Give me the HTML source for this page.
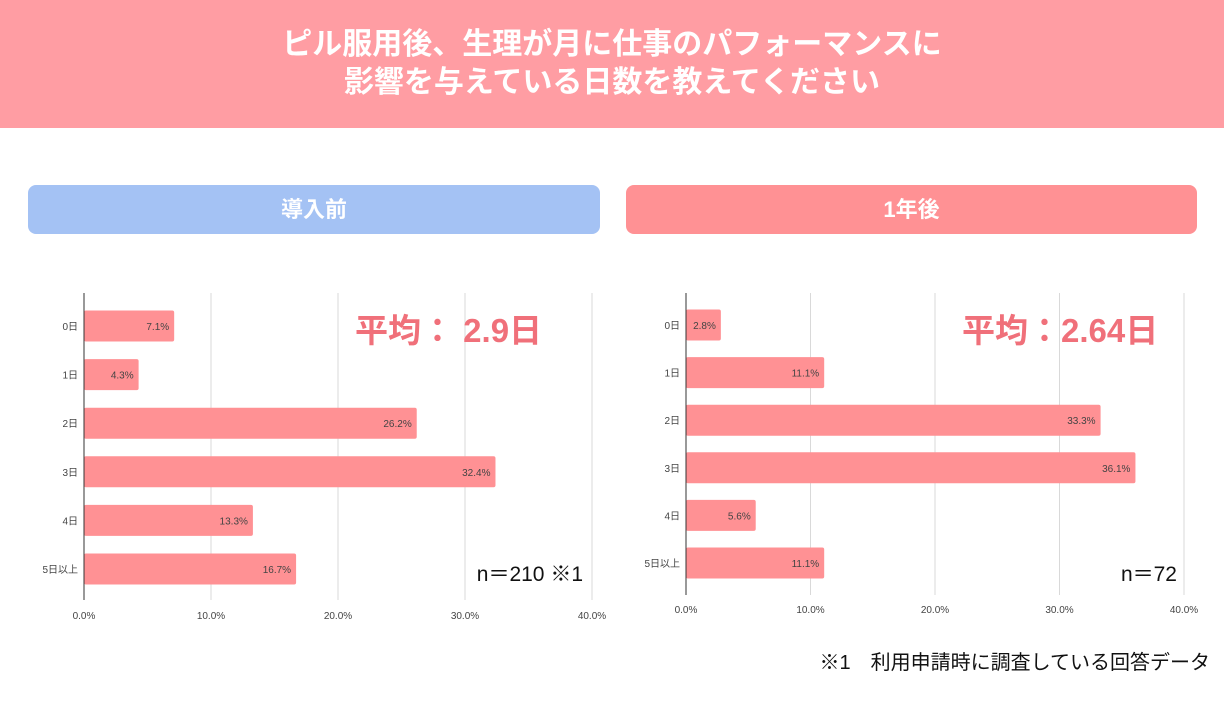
<!DOCTYPE html>
<html><head><meta charset="utf-8">
<style>
body{margin:0;width:1224px;height:702px;background:#fff;position:relative;overflow:hidden;font-family:"Liberation Sans","Noto Sans CJK JP",sans-serif;}
.hdr{position:absolute;left:0;top:0;width:1224px;height:128px;background:#ff9da3;color:#fff;font-weight:bold;font-size:30px;text-align:center;line-height:38px;padding-top:26px;box-sizing:border-box;}
.tag{position:absolute;top:185px;height:49px;border-radius:8px;color:#fff;font-weight:bold;font-size:22px;text-align:center;line-height:49px;}
svg{position:absolute;left:0;top:0}
</style></head><body>
<div class="hdr">ピル服用後、生理が月に仕事のパフォーマンスに<br>影響を与えている日数を教えてください</div>
<div class="tag" style="left:28px;width:572px;background:#a4c2f4">導入前</div>
<div class="tag" style="left:626px;width:571px;background:#ff9194">1年後</div>
<svg id="c" width="1224" height="702"></svg>
<script>
const categories=["0日","1日","2日","3日","4日","5日以上"];
const beforeValues=[7.1,4.3,26.2,32.4,13.3,16.7];
const afterValues=[2.8,11.1,33.3,36.1,5.6,11.1];
const tickValues=[0,10,20,30,40];
const tickLabels=["0.0%","10.0%","20.0%","30.0%","40.0%"];
const svg=document.getElementById('c');
const NS='http://www.w3.org/2000/svg';
function mk(t,a,txt){const e=document.createElementNS(NS,t);for(const k in a)e.setAttribute(k,a[k]);if(txt!=null)e.textContent=txt;svg.appendChild(e);return e;}
function chart(vals,x0,x1,yTop,yBot,firstY,step,barH,tickY,prefix){
  const sx=v=>x0+(x1-x0)*v/40;
  tickValues.forEach((t,i)=>{
    if(i>0){const g=mk('line',{x1:sx(t),x2:sx(t),y1:yTop,y2:yBot,stroke:'#d9d9d9','stroke-width':1});
    
    }
    const l=mk('text',{x:sx(t),y:tickY,'font-size':10,fill:'#444','text-anchor':'middle'},tickLabels[i]);
    
    
  });
  vals.forEach((v,i)=>{
    const cy=firstY+i*step;
    const b=mk('rect',{x:x0,y:cy-barH/2,width:sx(v)-x0,height:barH,rx:2,fill:'#ff9194'});
    
    
    const vl=mk('text',{x:sx(v)-5,y:cy+4,'font-size':10,fill:'#444','text-anchor':'end'},v.toFixed(1)+'%');
    
    
    const cl=mk('text',{x:x0-6,y:cy+4,'font-size':10,fill:'#444','text-anchor':'end'},categories[i]);
    
    
  });
  const ax=mk('line',{x1:x0,x2:x0,y1:yTop,y2:yBot,stroke:'#333','stroke-width':1});
  
  
}
chart(beforeValues,84,592,293,600,326,48.6,31,619,'before');
chart(afterValues,686,1184,293,595,325,47.6,31,613,'after');
function txt(x,y,s,size,fill,w,anchor,name){const e=mk('text',{x:x,y:y,'font-size':size,fill:fill,'font-weight':w,'text-anchor':anchor},s);

}
txt(355,342,'平均： 2.9日',33,'#f0707a','bold','start','before-average');
txt(962,342,'平均：2.64日',33,'#f0707a','bold','start','after-average');
txt(583,581,'n＝210 ※1',21,'#111','normal','end','before-sample-size');
txt(1177,581,'n＝72',21,'#111','normal','end','after-sample-size');
txt(1210,669,'※1　利用申請時に調査している回答データ',20,'#111','normal','end','footnote');
</script>
</body></html>
